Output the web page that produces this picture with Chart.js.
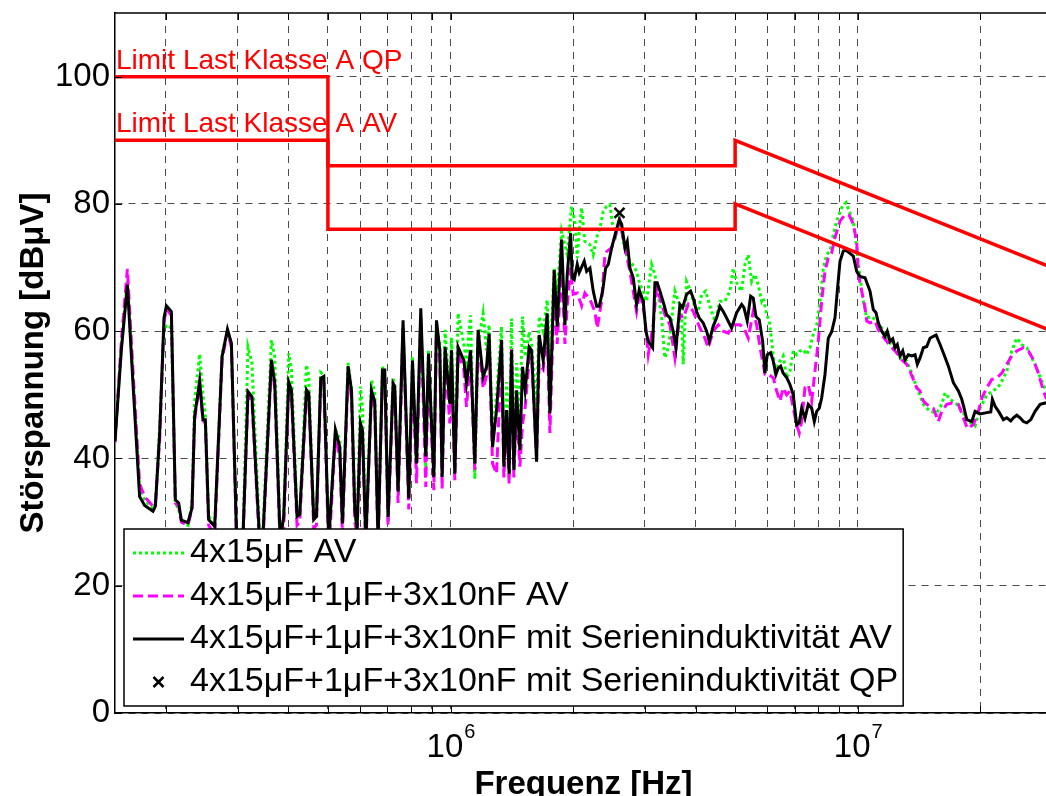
<!DOCTYPE html>
<html>
<head>
<meta charset="utf-8">
<script src="https://cdn.jsdelivr.net/npm/chart.js"></script>
<style>
  html, body { margin: 0; padding: 0; background: #fff; overflow: hidden; }
  #wrap { position: absolute; left: 0; top: 0; width: 1052px; height: 796px; }
</style>
</head>
<body>
<div id="wrap"><canvas id="chart"></canvas></div>
<script>
// frequencies in kHz, levels in dBµV
const freqLow = [
  150, 155.5, 160.9, 166, 172.4, 177.4, 185.9, 188.5, 193.1, 197.9,
  200.6, 206.3, 211, 215, 218.3, 226.6, 231.8, 235.3, 242.1, 246.7,
  250, 254.7, 263.6, 274.8, 283.3, 289.7, 298.5, 309.4, 318.2, 325.4,
  339.9, 346.4, 363.3, 370.1, 381.8, 389.4, 400.6, 406.7, 419.9, 426.3,
  442.8, 448.6, 461.5, 468.6, 480.2, 488.4, 502.3, 521.6, 534.6, 542.8,
  560.4, 571.3, 582.1, 589.6, 601.1, 607.9, 619.4, 639.6, 651.6, 663.9,
  680.6, 689.6, 702.6, 722.8, 729.6, 743.5, 764.7, 789.7, 806.5, 825.1,
  845.3, 869.6, 883, 910, 923.9, 941.3, 953.7, 969.9, 996.1, 1005.7,
  1024.7, 1044, 1078.2, 1094.7, 1119.8, 1147.4, 1169, 1202.6, 1226, 1244,
  1268.3, 1297.3, 1334.6, 1352.1, 1372.9, 1393.2, 1412.3, 1430.6, 1452.8, 1480.2,
  1502.9, 1525.2, 1560.1, 1581.5, 1626.9, 1651.1, 1688.8, 1727.4, 1754.3, 1797.3
];
const greenLow = [
  43, 57.5, 68, 53, 35, 33.5, 32, 33, 45, 60,
  61, 60.5, 33, 32, 30, 29.5, 33, 49, 56.4, 50,
  47, 31, 29.3, 56.5, 60, 58, 27.5, 28.5, 57.5, 55,
  28, 29, 58.6, 56, 27.5, 31, 56.5, 54, 31.5, 31,
  54.7, 53, 30.5, 31, 53.5, 53, 27, 44.5, 43, 30,
  55, 51, 30.8, 29.5, 51.3, 48, 27.5, 52.3, 50.5, 28,
  54.5, 53, 30, 52.6, 51.5, 34.5, 60.5, 33.7, 56, 38.2,
  62, 38.5, 57, 37.5, 60.5, 58, 38, 60.2, 50, 59,
  40, 62.8, 58, 55, 62.5, 36.8, 58, 62.8, 57, 61,
  43, 50, 60.7, 40, 52, 42, 62, 41, 55, 46,
  62.3, 56, 59.9, 58, 48, 62.3, 60, 64.9, 55, 69.9
];
const magentaLow = [
  42.5, 58.5, 69.8, 54, 36, 34, 32.5, 33, 43, 61.5,
  63.5, 62.5, 33, 32.5, 30, 29.5, 32, 46, 52, 46,
  45.5, 29.5, 28, 55.5, 60, 57.5, 26, 27, 50, 49,
  26, 27, 55, 51, 26, 29, 51.5, 50, 29.5, 30,
  50, 49.5, 29, 29.5, 52, 52, 25, 43.5, 40, 28,
  53.5, 49.5, 30, 28, 44.5, 43.5, 26, 50, 48, 26,
  53, 53, 29.5, 51, 50.5, 33, 60.5, 32, 54.5, 36.1,
  62.5, 35.5, 55.5, 35, 60.5, 55.5, 35.3, 56, 45.5, 55.5,
  36.6, 56.5, 54, 48.1, 56, 38.2, 59, 51, 53, 58.5,
  39.2, 37.6, 57, 37, 46, 36, 57.5, 37, 48, 38.7,
  45.5, 48, 55.5, 56, 40, 54.9, 54, 60, 44, 66
];
const blackLow = [
  42.7, 57.1, 67.3, 51.9, 34.0, 32.6, 31.7, 32.5, 44.0, 62.1,
  64.0, 63.1, 33.5, 33.0, 30.3, 29.9, 32.2, 46.6, 52.1, 46.1,
  46.1, 30.4, 29.3, 56.0, 60.3, 58.1, 27, 28, 50.5, 49.7,
  27, 28, 55.5, 51.9, 27, 30.9, 52.0, 50.8, 30.9, 31.2,
  50.8, 50.3, 30.4, 30.9, 52.6, 52.9, 27, 44.5, 41.8, 29.8,
  54.5, 50.7, 31.9, 29.0, 45.5, 44.4, 27, 50.7, 48.9, 27,
  53.9, 53.9, 30.8, 51.8, 51.3, 34.8, 61.7, 33.7, 55.4, 39.2,
  63.6, 40.3, 56.5, 37.1, 61.7, 57.0, 37.1, 57.5, 48.6, 57.0,
  37.6, 57.5, 55.4, 51.8, 57.0, 39.2, 60.2, 52.8, 54.4, 59.6,
  41.8, 47.6, 58.6, 38.7, 47.6, 37.6, 57.0, 38.2, 50.7, 41.3,
  54.4, 50.7, 57.5, 57.0, 39.5, 59.4, 55.4, 62.8, 47.1, 69.6
];

const greenHiFreq = [
  1828, 1874, 1935, 1983, 2020, 2048, 2071, 2099, 2138, 2200,
  2241, 2285, 2328, 2371, 2417, 2463, 2500, 2549, 2597, 2655,
  2717, 2785, 2864, 2919, 2973, 3030, 3118, 3177, 3236, 3299,
  3361, 3425, 3491, 3557, 3660, 3695, 3728, 3800, 3887, 3984,
  4059, 4137, 4232, 4378, 4461, 4589, 4721, 4855, 4948, 5061,
  5188, 5286, 5386, 5491, 5593, 5698, 5809, 5863, 5978, 6067,
  6150, 6264, 6443, 6563, 6691, 6817, 6946, 7080, 7215, 7350,
  7492, 7633, 7777, 7930, 8079, 8232, 8389, 8551, 8710, 8879,
  9133, 9361, 9537, 9755, 9943, 10090, 10323, 10522, 10823, 11134,
  11455, 11784, 12232, 12703, 13195, 13574, 13964, 14495, 15053, 15636,
  16085, 16389, 16860, 17509, 18175, 18693, 19419, 19976, 20749, 21538,
  22367, 23232, 23900, 24586, 25287, 26014, 26760, 27529, 28321, 29023, 30000
];
const greenHi = [
  66, 75.7, 72, 79.6, 77.3, 71.5, 75.7, 79.4, 74.1, 73.6,
  72.0, 74.7, 76.2, 78.8, 79.6, 79.9, 76.8, 75.2, 77.8, 74.1,
  71.5, 70.7, 69.4, 67.3, 66.3, 64.7, 70.5, 68.9, 65.8, 62.1,
  55.8, 57.4, 61.6, 66.3, 64, 62.6, 54.8, 67.8, 66.3, 63.7,
  63.1, 65.8, 66.3, 63.1, 61.6, 64.7, 64.7, 66.3, 69.9, 67.3,
  66.3, 70.5, 72.0, 67.8, 68.9, 67.3, 64.7, 65.2, 62.6, 61.6,
  58.4, 53.7, 55.3, 56.1, 52.7, 53.7, 56.9, 56.3, 56.9, 57.1,
  56.3, 57.4, 59.5, 61.0, 64.7, 69.9, 72.0, 72.6, 75.2, 77.3,
  79.4, 80.2, 78.8, 77.3, 73.1, 69.4, 64.7, 62.1, 62.3, 61.6,
  60.5, 58.9, 57.4, 55.8, 55.3, 53.4, 51.1, 48.5, 47.4, 47.2,
  48.5, 50.3, 49.3, 48.5, 47.2, 45.8, 45.1, 47.9, 50.0, 50.6,
  51.6, 53.7, 56.9, 58.9, 57.9, 57.4, 55.8, 54.2, 52.1, 50.6, 49.5
];

const magentaHiFreq = [
  1828, 1874, 1910, 1935, 1972, 2001, 2048, 2099, 2138, 2200,
  2262, 2293, 2350, 2394, 2417, 2488, 2606, 2682, 2758, 2864,
  2919, 3001, 3059, 3147, 3207, 3268, 3361, 3458, 3557, 3660,
  3728, 3836, 3945, 4097, 4215, 4294, 4418, 4545, 4675, 4810,
  4948, 5138, 5255, 5386, 5539, 5646, 5754, 5918, 5955, 6203,
  6324, 6443, 6563, 6691, 6817, 6946, 7080, 7185, 7284, 7421,
  7561, 7709, 7852, 8001, 8156, 8310, 8467, 8630, 8793, 9047,
  9305, 9537, 9755, 9943, 10035, 10228, 10423, 10522, 10720, 11027,
  11235, 11455, 11784, 12120, 12468, 12826, 13195, 13443, 13697, 13964,
  14227, 14495, 14775, 15337, 15777, 16085, 16548, 17023, 17670, 18175,
  18590, 19231, 19785, 20170, 20749, 21340, 21954, 22584, 23232, 23900,
  24586, 25521, 26254, 27008, 27778, 28577, 29023, 30000
];
const magentaHi = [
  58, 70, 58, 64, 70, 65.8, 66, 64, 66, 65,
  63.1, 60.5, 64.7, 72.0, 72.5, 73.1, 77.3, 73.1, 69.4, 63.1,
  66.3, 62.1, 56.3, 61.0, 66.8, 65.2, 62.6, 61.0, 55.8, 62.6,
  62.1, 64.2, 63.1, 60.5, 58.9, 57.4, 60.0, 61.0, 60.0, 59.7,
  61.0, 61.0, 60.5, 58.9, 63.1, 61.0, 57.5, 53.3, 53.4, 52.7,
  50.6, 49.0, 51.1, 50.0, 50.6, 47.9, 45.3, 44.0, 45.8, 51.1,
  51.6, 49.0, 53.7, 58.4, 64.7, 69.4, 71.5, 72.3, 74.7, 77.3,
  78.3, 78.2, 76.8, 74.1, 68.9, 66.3, 63.7, 61.6, 61.3, 61.6,
  60.2, 59.4, 58.4, 57.4, 56.6, 55.5, 54.8, 53.7, 52.4, 51.1,
  50.6, 49.0, 48.5, 47.9, 45.8, 47.4, 48.5, 48.7, 48.5, 46.4,
  44.7, 45.3, 47.4, 49.5, 51.1, 52.4, 52.7, 53.4, 54.8, 56.1,
  56.9, 57.4, 56.9, 55.5, 53.4, 50.6, 49.5, 48.5
];

const blackHiFreq = [
  1828.2, 1874.2, 1909.6, 1934.8, 1972.2, 1990.4, 2013, 2047.6, 2070.8, 2130.3,
  2159.4, 2200.1, 2241.5, 2284.8, 2318.7, 2364, 2404, 2440, 2487.6, 2548.5,
  2597, 2631.9, 2682.1, 2716.9, 2758.5, 2810.4, 2864.2, 2906.8, 2973.3, 3019.5,
  3058.7, 3135.8, 3176.9, 3218.1, 3268.2, 3342.8, 3394, 3458, 3523, 3578,
  3660, 3715, 3800, 3887, 3945, 4021, 4081, 4174, 4256, 4319,
  4418, 4504, 4589, 4675, 4764, 4901, 5042, 5188, 5255, 5354,
  5458, 5539, 5624, 5730, 5842, 5918, 5996, 6112, 6203, 6298,
  6380, 6467, 6563, 6691, 6817, 6946, 7080, 7185, 7284, 7421,
  7561, 7709, 7823, 7930, 8048, 8156, 8310, 8467, 8630, 8793,
  8910, 9047, 9217, 9361, 9537, 9755, 9943, 10131, 10423, 10720,
  10921, 11092, 11235, 11455, 11671, 11821, 12005, 12190, 12351, 12511,
  12703, 12900, 13068, 13314, 13574, 13830, 14009, 14227, 14495, 14775,
  15053, 15337, 15576, 15932, 16295, 16697, 17177, 17670, 18011, 18249,
  18528, 19060, 19419, 19976, 20749, 21223, 21414, 21747, 22279, 22788,
  23232, 23762, 24115, 24580, 25049, 25521, 26014, 26613, 27264, 28047,
  28853, 30000
];
const blackHi = [
  60.7, 74.4, 61.0, 68.9, 75.4, 68.4, 68.1, 70.5, 69.2, 71.0,
  69.4, 69.9, 66.3, 63.9, 63.9, 66.3, 69.9, 70.5, 73.1, 75.7,
  77.5, 76.8, 73.1, 74.1, 69.9, 68.4, 64.2, 66.5, 64.7, 60.0,
  58.4, 57.4, 67.6, 67.6, 66.3, 64.2, 62.6, 62.1, 60.0, 57.4,
  64.2, 63.7, 65.8, 66.3, 65.2, 63.1, 62.1, 61.3, 60.0, 58.4,
  60.8, 62.1, 63.9, 63.1, 62.1, 60.5, 62.9, 64.2, 63.7, 61.6,
  65.5, 65.2, 62.3, 61.8, 58.4, 53.4, 56.3, 56.6, 55.3, 53.2,
  54.2, 54.5, 53.4, 52.7, 51.6, 50.0, 45.3, 45.6, 47.9, 46.3,
  48.5, 47.9, 45.8, 47.4, 47.9, 49.5, 53.2, 58.9, 59.9, 62.1,
  66.3, 71.0, 72.6, 72.7, 72.3, 71.8, 69.4, 68.6, 68.4, 66.3,
  63.4, 62.9, 61.3, 60.0, 59.2, 60.0, 58.4, 58.8, 57.4, 57.9,
  56.1, 56.9, 55.5, 56.3, 56.1, 56.3, 54.8, 55.8, 57.4, 57.6,
  58.9, 59.2, 59.4, 57.9, 56.3, 54.5, 51.9, 50.6, 49.3, 47.9,
  46.1, 45.8, 47.4, 47.0, 47.2, 47.3, 49.3, 48.2, 47.2, 46.1,
  46.4, 45.9, 46.4, 46.8, 46.4, 45.8, 45.6, 46.1, 47.4, 48.5,
  48.7, 48.8
];

const qpMarkerFreq = [2600];
const qpMarkerLevel = [78.6];

const limitFreq = [150, 500, 500, 5000, 5000, 30000];
const limitQP = [100, 100, 86, 86, 90, 70];
const limitAV = [90, 90, 76, 76, 80, 60];

// grid positions (kHz) and tick values
const gridFreqs = [200, 300, 400, 500, 600, 700, 800, 900, 1000,
  2000, 3000, 4000, 5000, 6000, 7000, 8000, 9000, 10000, 20000];
const decadeLabels = [1000, 10000];
const yTicks = [0, 20, 40, 60, 80, 100];

const FONT = "'Liberation Sans', Arial, Helvetica, sans-serif";

function pts(f, v) {
  return f.map((x, i) => ({ x: x * 1000, y: v[i] }));
}

const framePlugin = {
  id: 'matlabFrame',
  afterDraw(chart) {
    const { ctx, chartArea: ca, scales } = chart;
    const xs = scales.x, ys = scales.y;
    ctx.save();

    // top border + inward ticks
    ctx.strokeStyle = '#000';
    ctx.lineWidth = 1.5;
    ctx.beginPath();
    ctx.moveTo(ca.left, ca.top);
    ctx.lineTo(ca.right, ca.top);
    ctx.stroke();
    ctx.lineWidth = 1;
    ctx.beginPath();
    gridFreqs.forEach(f => {
      const px = Math.round(xs.getPixelForValue(f * 1000)) + 0.5;
      ctx.moveTo(px, ca.bottom); ctx.lineTo(px, ca.bottom - 7);
      ctx.moveTo(px, ca.top); ctx.lineTo(px, ca.top + 7);
    });
    yTicks.forEach(v => {
      const py = Math.round(ys.getPixelForValue(v)) + 0.5;
      ctx.moveTo(ca.left, py); ctx.lineTo(ca.left + 7, py);
    });
    ctx.stroke();

    // x decade labels 10^n
    ctx.fillStyle = '#000';
    ctx.textBaseline = 'alphabetic';
    ctx.textAlign = 'left';
    decadeLabels.forEach(d => {
      const px = xs.getPixelForValue(d * 1000);
      const exp = String(Math.round(Math.log10(d * 1000)));
      ctx.font = `33px ${FONT}`;
      const wBase = ctx.measureText('10').width;
      ctx.font = `20px ${FONT}`;
      const wExp = ctx.measureText(exp).width;
      const x0 = px - (wBase + wExp) / 2;
      ctx.font = `33px ${FONT}`;
      ctx.fillText('10', x0, 757);
      ctx.font = `20px ${FONT}`;
      ctx.fillText(exp, x0 + wBase + 1, 738);
    });

    // limit line labels
    ctx.font = `28px ${FONT}`;
    ctx.fillStyle = '#ff0000';
    chart.data.datasets.filter(d => d.isLimit).forEach(d => {
      ctx.fillText(d.label, ca.left + 1, ys.getPixelForValue(d.data[0].y) - 8);
    });

    // legend
    const items = chart.data.datasets.filter(d => d.inLegend);
    ctx.font = `34px ${FONT}`;
    const wText = Math.max(...items.map(d => ctx.measureText(d.label).width));
    const rowH = 43;
    const left = ca.left + 9;
    const textX = left + 66;
    const h = items.length * rowH + 5;
    const top = ca.bottom - 7 - h;
    const w = textX - left + wText + 5;
    ctx.fillStyle = '#fff';
    ctx.fillRect(left, top, w, h);
    ctx.strokeStyle = '#000';
    ctx.lineWidth = 1.5;
    ctx.strokeRect(left, top, w, h);
    items.forEach((d, i) => {
      const cy = top + 24 + i * rowH;
      ctx.strokeStyle = d.borderColor;
      if (d.showLine === false) {
        const cx = left + 34.5, r = 5;
        ctx.lineWidth = 2.5;
        ctx.setLineDash([]);
        ctx.beginPath();
        ctx.moveTo(cx - r, cy - r); ctx.lineTo(cx + r, cy + r);
        ctx.moveTo(cx - r, cy + r); ctx.lineTo(cx + r, cy - r);
        ctx.stroke();
      } else {
        ctx.lineWidth = d.borderWidth;
        ctx.setLineDash(d.borderDash || []);
        ctx.beginPath();
        ctx.moveTo(left + 9, cy); ctx.lineTo(left + 60, cy);
        ctx.stroke();
      }
      ctx.setLineDash([]);
      ctx.fillStyle = '#000';
      ctx.textBaseline = 'middle';
      ctx.fillText(d.label, textX, cy);
    });
    ctx.restore();
  }
};

new Chart(document.getElementById('chart'), {
  type: 'line',
  data: {
    datasets: [
      {
        label: '4x15μF AV',
        data: pts(freqLow.concat(greenHiFreq), greenLow.concat(greenHi)),
        borderColor: '#00ff00', borderWidth: 3, borderDash: [3, 3],
        pointRadius: 0, tension: 0, order: 4, inLegend: true
      },
      {
        label: '4x15μF+1μF+3x10nF AV',
        data: pts(freqLow.concat(magentaHiFreq), magentaLow.concat(magentaHi)),
        borderColor: '#ff00ff', borderWidth: 3, borderDash: [10, 5],
        pointRadius: 0, tension: 0, order: 3, inLegend: true
      },
      {
        label: '4x15μF+1μF+3x10nF mit Serieninduktivität AV',
        data: pts(freqLow.concat(blackHiFreq), blackLow.concat(blackHi)),
        borderColor: '#000000', borderWidth: 3,
        pointRadius: 0, tension: 0, order: 2, inLegend: true
      },
      {
        label: '4x15μF+1μF+3x10nF mit Serieninduktivität QP',
        data: pts(qpMarkerFreq, qpMarkerLevel),
        showLine: false, borderColor: '#000000', backgroundColor: '#000000',
        pointStyle: 'crossRot', pointRadius: 7, borderWidth: 2.5,
        order: 1, inLegend: true
      },
      {
        label: 'Limit Last Klasse A QP',
        data: pts(limitFreq, limitQP),
        borderColor: '#ff0000', borderWidth: 3.5, pointRadius: 0, tension: 0,
        order: 0, isLimit: true
      },
      {
        label: 'Limit Last Klasse A AV',
        data: pts(limitFreq, limitAV),
        borderColor: '#ff0000', borderWidth: 3.5, pointRadius: 0, tension: 0,
        order: 0, isLimit: true
      }
    ]
  },
  options: {
    responsive: true,
    maintainAspectRatio: false,
    animation: false,
    events: [],
    layout: { autoPadding: false, padding: { top: 13, left: 0, right: 0, bottom: 0 } },
    plugins: { legend: { display: false }, tooltip: { enabled: false } },
    scales: {
      x: {
        type: 'logarithmic',
        min: 150000,
        max: 30000000,
        afterBuildTicks: s => { s.ticks = gridFreqs.map(f => ({ value: f * 1000 })); },
        afterFit: s => { s.height = 83; s.paddingLeft = 0; s.paddingRight = 0; },
        ticks: { display: false },
        grid: { color: 'rgba(0,0,0,0.7)', lineWidth: 1, drawTicks: false },
        border: { display: true, color: '#000', width: 1.5, dash: [7, 6] },
        title: {
          display: true, text: 'Frequenz [Hz]', color: '#000', padding: 0,
          font: { family: FONT, size: 33, weight: 'bold', lineHeight: 0.7 }
        }
      },
      y: {
        min: 0,
        max: 110,
        afterBuildTicks: s => { s.ticks = yTicks.map(v => ({ value: v })); },
        afterFit: s => { s.width = 115; s.paddingTop = 0; s.paddingBottom = 0; },
        ticks: { color: '#000', padding: 5, font: { family: FONT, size: 33 } },
        grid: { color: 'rgba(0,0,0,0.7)', lineWidth: 1, drawTicks: false },
        border: { display: true, color: '#000', width: 1.5, dash: [7, 6] },
        title: {
          display: true, text: 'Störspannung [dBμV]', color: '#000',
          padding: { top: 14, bottom: 0 },
          font: { family: FONT, size: 33, weight: 'bold', lineHeight: 1.2 }
        }
      }
    }
  },
  plugins: [framePlugin]
});
</script>
</body>
</html>
